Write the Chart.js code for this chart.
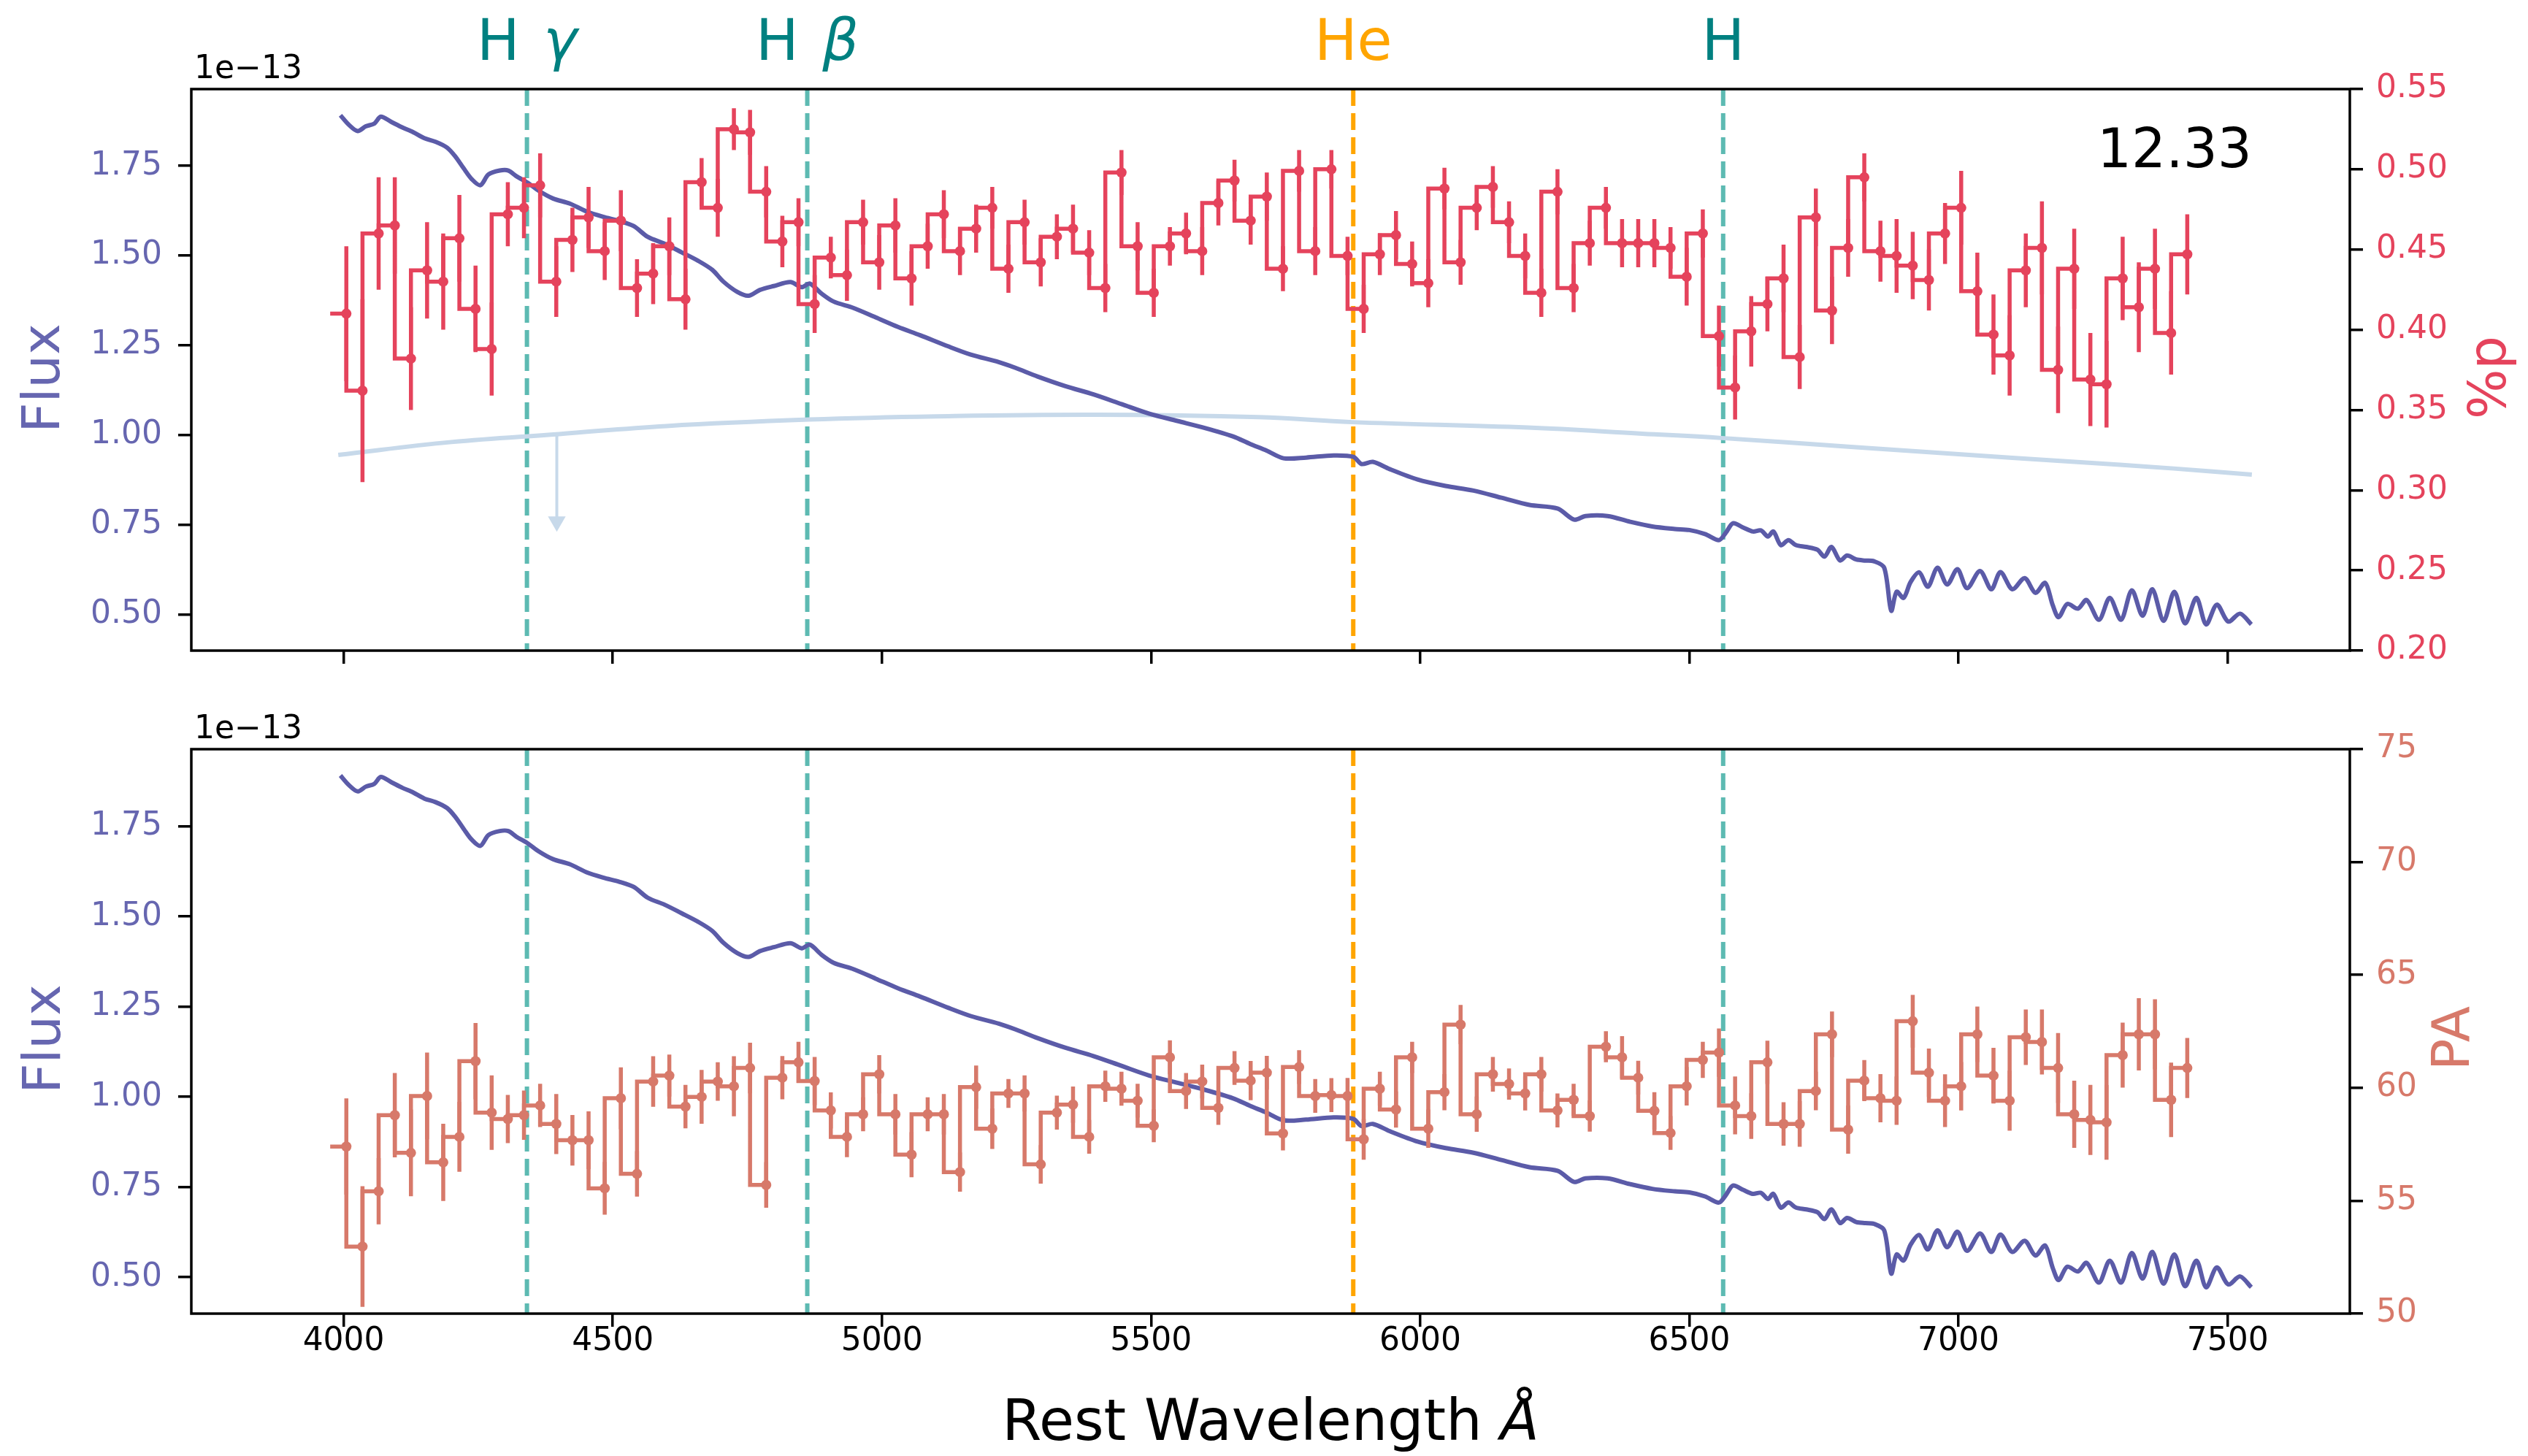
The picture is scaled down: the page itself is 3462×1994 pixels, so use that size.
<!DOCTYPE html>
<html lang="en">
<head>
<meta charset="UTF-8">
<title>Flux and polarisation, 12.33</title>
<script src="https://cdn.jsdelivr.net/npm/chart.js"></script>
<style>
  body { margin: 0; background: #fff; }
  #wrap { position: relative; width: 3462px; height: 1994px; }
  canvas { position: absolute; left: 0; }
</style>
</head>
<body>
<div id="wrap">
  <canvas id="topChart" width="3462" height="960" style="top:0"></canvas>
  <canvas id="bottomChart" width="3462" height="1034" style="top:960px"></canvas>
</div>
<script>
// polarimetry bins (rest wavelength, Å)
const binWave = [4005,4035,4065,4095,4125,4155,4185,4215,4245,4275,
  4305,4335,4365,4395,4425,4455,4485,4515,4545,4575,
  4605,4635,4665,4695,4725,4755,4785,4815,4845,4875,
  4905,4935,4965,4995,5025,5055,5085,5115,5145,5175,
  5205,5235,5265,5295,5325,5355,5385,5415,5445,5475,
  5505,5535,5565,5595,5625,5655,5685,5715,5745,5775,
  5805,5835,5865,5895,5925,5955,5985,6015,6045,6075,
  6105,6135,6165,6195,6225,6255,6285,6315,6345,6375,
  6405,6435,6465,6495,6525,6555,6585,6615,6645,6675,
  6705,6735,6765,6795,6825,6855,6885,6915,6945,6975,
  7005,7035,7065,7095,7125,7155,7185,7215,7245,7275,
  7305,7335,7365,7395,7425];
const stepStartWave = 3975;

// p (%)
const polP = [0.410,0.362,0.460,0.465,0.382,0.437,0.430,0.457,0.413,0.388,
  0.472,0.476,0.490,0.430,0.456,0.470,0.449,0.468,0.426,0.435,
  0.452,0.419,0.492,0.476,0.525,0.523,0.486,0.455,0.467,0.416,
  0.445,0.434,0.467,0.442,0.465,0.432,0.452,0.472,0.449,0.463,
  0.476,0.438,0.467,0.442,0.458,0.463,0.448,0.426,0.498,0.452,
  0.423,0.452,0.460,0.449,0.479,0.493,0.468,0.483,0.438,0.499,
  0.449,0.500,0.446,0.413,0.447,0.459,0.441,0.429,0.488,0.442,
  0.476,0.489,0.467,0.446,0.423,0.486,0.426,0.454,0.476,0.454,
  0.454,0.454,0.451,0.433,0.460,0.396,0.364,0.399,0.416,0.432,
  0.383,0.470,0.412,0.451,0.495,0.449,0.446,0.440,0.431,0.460,
  0.476,0.424,0.397,0.384,0.437,0.451,0.375,0.438,0.369,0.366,
  0.432,0.414,0.438,0.398,0.447];
const polPErr = [0.042,0.057,0.035,0.030,0.032,0.030,0.030,0.027,0.027,0.029,
  0.020,0.019,0.020,0.022,0.020,0.019,0.018,0.019,0.018,0.019,
  0.018,0.019,0.015,0.018,0.013,0.014,0.016,0.016,0.015,0.018,
  0.013,0.016,0.014,0.017,0.017,0.017,0.014,0.015,0.015,0.015,
  0.013,0.015,0.014,0.015,0.014,0.015,0.014,0.015,0.014,0.015,
  0.015,0.012,0.013,0.015,0.014,0.013,0.015,0.015,0.014,0.013,
  0.015,0.012,0.012,0.015,0.013,0.015,0.014,0.015,0.013,0.014,
  0.014,0.013,0.013,0.014,0.015,0.014,0.015,0.014,0.013,0.015,
  0.015,0.015,0.013,0.018,0.015,0.019,0.020,0.022,0.017,0.021,
  0.020,0.018,0.021,0.018,0.015,0.019,0.023,0.021,0.019,0.019,
  0.023,0.024,0.025,0.025,0.023,0.029,0.027,0.025,0.029,0.027,
  0.026,0.028,0.025,0.026,0.025];

// position angle (deg)
const polPA = [57.40,52.97,55.42,58.79,57.12,59.64,56.70,57.83,61.18,58.90,
  58.62,58.79,59.22,58.40,57.68,57.68,55.55,59.54,56.19,60.28,
  60.54,59.17,59.60,60.28,60.07,60.88,55.70,60.45,61.13,60.30,
  59.00,57.83,58.83,60.60,58.83,57.04,58.83,58.83,56.27,60.03,
  58.19,59.75,59.75,56.61,58.90,59.26,57.83,60.07,59.96,59.43,
  58.32,61.35,59.86,60.28,59.11,60.88,60.32,60.67,57.98,60.92,
  59.64,59.68,59.64,57.72,59.96,59.04,61.35,58.19,59.81,62.80,
  58.83,60.60,60.17,59.75,60.60,59.00,59.47,58.75,61.82,61.35,
  60.45,58.98,58.00,60.07,61.24,61.56,59.22,58.75,61.13,58.40,
  58.40,59.86,62.37,58.15,60.32,59.54,59.43,62.95,60.67,59.43,
  60.07,62.37,60.54,59.43,62.24,62.03,60.88,58.83,58.58,58.47,
  61.45,62.37,62.37,59.47,60.88];
const polPAErr = [2.13,2.67,1.47,1.87,1.92,1.92,1.71,1.55,1.69,1.65,
  1.07,1.09,0.96,1.33,1.12,1.28,1.17,1.37,1.01,1.12,
  0.93,0.96,1.19,0.85,1.33,1.12,1.01,0.96,0.91,1.07,
  0.80,0.90,0.75,0.85,0.90,1.00,0.75,0.90,0.87,0.96,
  0.90,0.64,0.80,0.85,0.75,0.80,0.75,0.69,0.75,0.75,
  0.73,0.75,0.80,0.75,0.75,0.75,0.87,0.75,0.75,0.75,
  0.75,0.75,0.80,0.90,0.75,0.80,0.69,0.85,0.80,0.87,
  0.78,0.77,0.69,0.75,0.77,0.75,0.71,0.69,0.69,0.94,
  0.75,0.83,0.75,0.85,0.80,1.07,1.28,1.01,0.96,0.96,
  1.01,0.85,1.01,1.07,0.91,1.07,1.07,1.17,1.07,1.17,
  1.07,1.23,1.23,1.33,1.23,1.44,1.55,1.49,1.55,1.65,
  1.44,1.60,1.55,1.65,1.33];

// flux spectrum (units of 1e-13)
const fluxWave = [3994,4010,4026,4041,4057,4069,4088,4109,4129,4150,
  4171,4192,4207,4223,4238,4254,4269,4290,4306,4321,
  4342,4363,4389,4420,4451,4482,4513,4539,4565,4596,
  4628,4659,4685,4705,4731,4752,4773,4799,4830,4851,
  4866,4887,4910,4947,4988,5030,5071,5123,5165,5217,
  5248,5289,5341,5393,5445,5497,5549,5601,5652,5684,
  5715,5746,5788,5839,5876,5891,5912,5943,5995,6047,
  6099,6151,6203,6255,6286,6307,6348,6390,6431,6473,
  6500,6529,6555,6568,6581,6600,6618,6633,6646,6656,
  6670,6684,6698,6717,6738,6751,6764,6780,6793,6810,
  6827,6843,6862,6875,6885,6898,6911,6927,6943,6961,
  6979,6998,7016,7040,7061,7078,7100,7123,7143,7161,
  7175,7186,7202,7222,7238,7261,7281,7302,7322,7342,
  7360,7381,7401,7421,7442,7460,7480,7501,7523,7544];
const fluxVal = [1.891,1.864,1.847,1.860,1.868,1.887,1.873,1.857,1.844,1.827,
  1.817,1.801,1.777,1.743,1.713,1.696,1.726,1.737,1.737,1.721,
  1.703,1.680,1.659,1.645,1.623,1.608,1.596,1.582,1.552,1.533,
  1.509,1.485,1.460,1.428,1.399,1.388,1.404,1.415,1.426,1.412,
  1.422,1.395,1.372,1.354,1.328,1.301,1.278,1.247,1.224,1.203,
  1.187,1.163,1.136,1.113,1.086,1.059,1.039,1.019,0.996,0.975,
  0.956,0.935,0.937,0.943,0.939,0.919,0.925,0.905,0.876,0.858,
  0.845,0.825,0.805,0.795,0.764,0.774,0.774,0.758,0.745,0.738,
  0.735,0.724,0.707,0.728,0.754,0.742,0.731,0.734,0.717,0.731,
  0.693,0.707,0.693,0.688,0.680,0.661,0.688,0.650,0.664,0.653,
  0.650,0.648,0.630,0.510,0.563,0.546,0.590,0.617,0.577,0.630,
  0.583,0.626,0.573,0.621,0.570,0.618,0.570,0.601,0.560,0.588,
  0.526,0.492,0.529,0.516,0.540,0.485,0.546,0.485,0.567,0.496,
  0.570,0.482,0.563,0.475,0.546,0.472,0.527,0.480,0.502,0.472];

// fitted ISP curve in the p panel, and its arrow
const serkWave = [3990,4200,4400,4600,4865,5100,5400,5700,5874,6200,6413,6560,6800,7000,7200,7400,7545];
const serkP = [0.322,0.330,0.335,0.340,0.344,0.346,0.347,0.3455,0.3424,0.339,0.3352,0.3325,0.327,0.3224,0.318,0.3135,0.3097];
const arrowWave = 4396;
const arrowFrom = 0.335;
const arrowHead = 0.2805;

// line identifications
const lineWave = [4340.5, 4861.3, 5875.6, 6562.8];
const lineName = ['H', 'H', 'He', 'H'];
const lineGreek = ['γ', 'β', '', ''];
const lineIsHe = [false, false, true, false];

const epochLabel = '12.33';

// axes
const xRange = [3717, 7727];
const xTicks = [4000, 4500, 5000, 5500, 6000, 6500, 7000, 7500];
const fluxRange = [0.399, 1.964];
const fluxTicks = [0.50, 0.75, 1.00, 1.25, 1.50, 1.75];
const pRange = [0.20, 0.55];
const pTicks = [0.20, 0.25, 0.30, 0.35, 0.40, 0.45, 0.50, 0.55];
const paRange = [50, 75];
const paTicks = [50, 55, 60, 65, 70, 75];

const FONT = '"DejaVu Sans", sans-serif';
const col = {
  flux: '#5b5ba8', fluxText: '#6666b0',
  pol: '#e5435c', pa: '#d7796a',
  hLine: '#5dbab2', hText: '#008080', he: '#ffa500',
  serk: '#c7d9ea'
};

const pts = (xs, ys) => xs.map((x, i) => ({x, y: ys[i]}));
const stepPts = ys => [{x: stepStartWave, y: ys[0]}].concat(pts(binWave, ys));
function errPts(ys, es) {
  const out = [];
  binWave.forEach((x, i) => { out.push({x, y: ys[i] - es[i]}, {x, y: ys[i] + es[i]}, {x, y: null}); });
  return out;
}

function polSets(ys, es, color, axis) {
  return [
    {data: pts(binWave, ys), yAxisID: axis, showLine: false, pointRadius: 7, pointBackgroundColor: color, pointBorderWidth: 0, order: 0},
    {data: errPts(ys, es), yAxisID: axis, borderColor: color, borderWidth: 5.5, pointRadius: 0, spanGaps: false, order: 1},
    {data: stepPts(ys), yAxisID: axis, borderColor: color, borderWidth: 5.5, pointRadius: 0, stepped: 'after', order: 2}
  ];
}
const fluxSet = () => ({data: pts(fluxWave, fluxVal), yAxisID: 'y', borderColor: col.flux, borderWidth: 6, pointRadius: 0, tension: 0.3, order: 3});
const lineSets = () => lineWave.map((w, i) => ({
  data: [{x: w, y: fluxRange[1]}, {x: w, y: fluxRange[0]}], yAxisID: 'y',
  borderColor: lineIsHe[i] ? col.he : col.hLine, borderWidth: 6, borderDash: [23, 10], pointRadius: 0, order: 6
}));

const tickFont = {family: FONT, size: 44};
function xScale(showLabels, h) {
  return {
    type: 'linear', position: 'bottom', min: xRange[0], max: xRange[1],
    afterBuildTicks: s => { s.ticks = xTicks.map(v => ({value: v})); },
    afterFit: s => { s.height = h; },
    grid: {display: true, drawOnChartArea: false, drawTicks: true, tickLength: 18, tickWidth: 3.5, lineWidth: 3.5, tickColor: '#000', color: '#000'},
    border: {display: false},
    ticks: {display: showLabels, padding: -6, color: '#000', font: tickFont, maxRotation: 0, autoSkip: false, callback: v => String(v)}
  };
}
function yScale(pos, range, ticks, digits, color, w) {
  return {
    type: 'linear', position: pos, min: range[0], max: range[1],
    afterBuildTicks: s => { s.ticks = ticks.map(v => ({value: v})); },
    afterFit: s => { s.width = w; },
    grid: {display: true, drawOnChartArea: false, drawTicks: true, tickLength: 18, tickWidth: 3.5, lineWidth: 3.5, tickColor: '#000', color: '#000'},
    border: {display: false},
    ticks: {color, padding: pos === 'left' ? 22 : 18, font: tickFont, autoSkip: false, callback: v => v.toFixed(digits)}
  };
}

const framePlugin = {
  id: 'frame',
  afterDraw(chart) {
    const {ctx, chartArea: a} = chart;
    ctx.save();
    ctx.strokeStyle = '#000';
    ctx.lineWidth = 3.5;
    ctx.strokeRect(a.left, a.top, a.right - a.left, a.bottom - a.top);
    ctx.restore();
  }
};

function drawParts(ctx, parts, x, y, align) {
  let w = 0;
  parts.forEach(p => { ctx.font = p.font; p.w = ctx.measureText(p.t).width; w += p.w; });
  let cx = align === 'center' ? x - w / 2 : x;
  ctx.textAlign = 'left';
  parts.forEach(p => { ctx.font = p.font; ctx.fillText(p.t, cx, y); cx += p.w; });
}
function drawRotated(ctx, text, font, color, x, y) {
  ctx.save();
  ctx.translate(x, y);
  ctx.rotate(-Math.PI / 2);
  ctx.font = font; ctx.fillStyle = color;
  ctx.textAlign = 'center'; ctx.textBaseline = 'middle';
  ctx.fillText(text, 0, 0);
  ctx.restore();
}

const topText = {
  id: 'topText',
  afterDraw(chart) {
    const ctx = chart.ctx, x = chart.scales.x;
    ctx.save();
    ctx.textBaseline = 'alphabetic';
    lineWave.forEach((w, i) => {
      ctx.fillStyle = lineIsHe[i] ? col.he : col.hText;
      const parts = [{t: lineName[i] + (lineGreek[i] ? ' \u200A' : ''), font: '78px ' + FONT}];
      if (lineGreek[i]) parts.push({t: lineGreek[i], font: 'italic 78px ' + FONT});
      drawParts(ctx, parts, x.getPixelForValue(w), 82, 'center');
    });
    ctx.fillStyle = '#000';
    drawParts(ctx, [{t: '1e\u221213', font: '44px ' + FONT}], 266, 107, 'left');
    drawParts(ctx, [{t: epochLabel, font: '74px ' + FONT}], 2872, 229, 'left');
    ctx.restore();
    drawRotated(ctx, 'Flux', '72px ' + FONT, col.fluxText, 62, 518);
    drawRotated(ctx, '%p', '72px ' + FONT, col.pol, 3412, 517);
  }
};
const bottomText = {
  id: 'bottomText',
  afterDraw(chart) {
    const ctx = chart.ctx, a = chart.chartArea;
    ctx.save();
    ctx.textBaseline = 'alphabetic';
    ctx.fillStyle = '#000';
    drawParts(ctx, [{t: '1e\u221213', font: '44px ' + FONT}], 266, 51, 'left');
    drawParts(ctx, [{t: 'Rest Wavelength ', font: '78px ' + FONT}, {t: 'Å', font: 'italic 78px ' + FONT}], (a.left + a.right) / 2, 1012, 'center');
    ctx.restore();
    drawRotated(ctx, 'Flux', '72px ' + FONT, col.fluxText, 63, 463);
    drawRotated(ctx, 'PA', '72px ' + FONT, col.pa, 3362, 462);
  }
};

const baseOpts = padTop => ({
  responsive: false, animation: false, devicePixelRatio: 1,
  layout: {padding: {top: padTop, left: 0, right: 0, bottom: 0}},
  plugins: {legend: {display: false}, tooltip: {enabled: false}}
});

// top panel: flux + p
new Chart(document.getElementById('topChart'), {
  type: 'line',
  data: {datasets: [
    ...polSets(polP, polPErr, col.pol, 'y1'),
    fluxSet(),
    {data: pts(serkWave, serkP), yAxisID: 'y1', borderColor: col.serk, borderWidth: 6, pointRadius: 0, tension: 0.4, order: 4},
    {data: [{x: arrowWave, y: arrowFrom}, {x: arrowWave, y: arrowHead}], yAxisID: 'y1', borderColor: col.serk, borderWidth: 4,
     pointRadius: [0, 14], pointStyle: 'triangle', pointRotation: 180, pointBackgroundColor: col.serk, pointBorderWidth: 0, order: 5},
    ...lineSets()
  ]},
  options: Object.assign(baseOpts(122), {
    scales: {
      x: xScale(false, 69),
      y: yScale('left', fluxRange, fluxTicks, 2, col.fluxText, 262),
      y1: yScale('right', pRange, pTicks, 2, col.pol, 244)
    }
  }),
  plugins: [framePlugin, topText]
});

// bottom panel: flux + PA
new Chart(document.getElementById('bottomChart'), {
  type: 'line',
  data: {datasets: [
    ...polSets(polPA, polPAErr, col.pa, 'y1'),
    fluxSet(),
    ...lineSets()
  ]},
  options: Object.assign(baseOpts(66), {
    scales: {
      x: xScale(true, 195),
      y: yScale('left', fluxRange, fluxTicks, 2, col.fluxText, 262),
      y1: yScale('right', paRange, paTicks, 0, col.pa, 244)
    }
  }),
  plugins: [framePlugin, bottomText]
});
</script>
</body>
</html>
